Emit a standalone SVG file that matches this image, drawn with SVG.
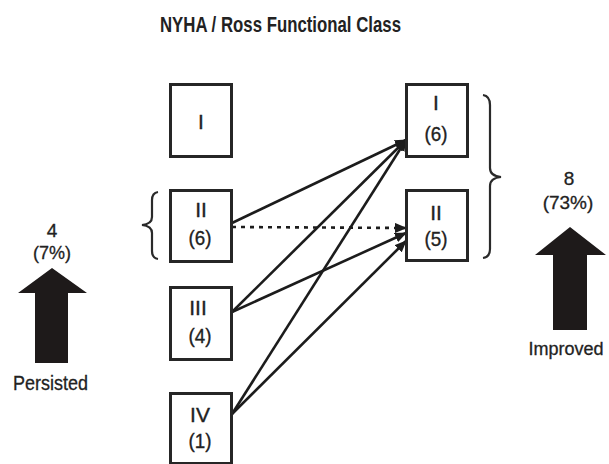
<svg xmlns="http://www.w3.org/2000/svg" width="609" height="464" viewBox="0 0 609 464">
<style>
  .box { fill: #fff; stroke: #262626; stroke-width: 3; }
  .lbl { font-family: "Liberation Sans", Arial, sans-serif; font-size: 21px; fill: #222; stroke: #222; stroke-width: 0.35; text-anchor: middle; }
  .num { font-family: "Liberation Sans", Arial, sans-serif; font-size: 19px; fill: #222; stroke: #222; stroke-width: 0.3; text-anchor: middle; }
  .title { font-family: "Liberation Sans", Arial, sans-serif; font-size: 22px; font-weight: bold; fill: #222; text-anchor: middle; }
  .conn { stroke: #1c1c1c; stroke-width: 2.6; fill: none; marker-end: url(#ah); }
  .dot { stroke-dasharray: 4 5; }
  .brace { stroke: #2a2a2a; stroke-width: 2.2; fill: none; }
  .big { fill: #1e1a1a; }
</style>
<defs>
  <marker id="ah" viewBox="0 0 12 10" refX="11" refY="5" markerWidth="12" markerHeight="10" markerUnits="userSpaceOnUse" orient="auto">
    <path d="M0,0 L12,5 L0,10 Z" fill="#1c1c1c"/>
  </marker>
</defs>
<rect width="609" height="464" fill="#fff"/>
<text class="title" x="280.5" y="32" textLength="241" lengthAdjust="spacingAndGlyphs">NYHA / Ross Functional Class</text>

<g id="connectors">
  <line class="conn" x1="232" y1="223" x2="406" y2="140"/>
  <line class="conn dot" x1="232" y1="227" x2="406" y2="228"/>
  <line class="conn" x1="232" y1="312" x2="406" y2="140"/>
  <line class="conn" x1="232" y1="312" x2="406" y2="233"/>
  <line class="conn" x1="232" y1="414" x2="406" y2="140"/>
  <line class="conn" x1="232" y1="414" x2="406" y2="241"/>
</g>

<g id="L1">
  <rect class="box" x="170.5" y="84.5" width="61" height="72"/>
  <text class="lbl" x="201" y="129">I</text>
</g>
<g id="L2">
  <rect class="box" x="170.5" y="190.5" width="61" height="71"/>
  <text class="lbl" x="201" y="217">II</text>
  <text class="lbl" x="200" y="245" textLength="23" lengthAdjust="spacingAndGlyphs">(6)</text>
</g>
<g id="L3">
  <rect class="box" x="170.5" y="287.5" width="61" height="72"/>
  <text class="lbl" x="198" y="315">III</text>
  <text class="lbl" x="200" y="343" textLength="23" lengthAdjust="spacingAndGlyphs">(4)</text>
</g>
<g id="L4">
  <rect class="box" x="170.5" y="393.5" width="61" height="70"/>
  <text class="lbl" x="200" y="422">IV</text>
  <text class="lbl" x="200" y="448" textLength="23" lengthAdjust="spacingAndGlyphs">(1)</text>
</g>
<g id="R1">
  <rect class="box" x="406.5" y="84.5" width="61" height="72"/>
  <text class="lbl" x="436" y="110">I</text>
  <text class="lbl" x="436" y="141" textLength="23" lengthAdjust="spacingAndGlyphs">(6)</text>
</g>
<g id="R2">
  <rect class="box" x="406.5" y="190.5" width="61" height="70"/>
  <text class="lbl" x="436" y="220">II</text>
  <text class="lbl" x="436" y="246" textLength="23" lengthAdjust="spacingAndGlyphs">(5)</text>
</g>

<g id="brace-left">
  <path class="brace" d="M158,192 Q152,193 152,200 L152,217 Q152,224 142,225 Q152,226 152,233 L152,251 Q152,258 158,259"/>
</g>
<g id="brace-right">
  <path class="brace" d="M483,95 Q490,96 490,105 L490,168 Q490,176 501,177 Q490,178 490,186 L490,249 Q490,257 483,258"/>
</g>

<g id="persisted">
  <text class="num" x="52" y="237">4</text>
  <text class="num" x="52" y="259" textLength="38" lengthAdjust="spacingAndGlyphs">(7%)</text>
  <path class="big" d="M52,268 L87,293 L68,293 L68,363 L35,363 L35,293 L18,293 Z"/>
  <text class="num" x="50.5" y="390" textLength="75" lengthAdjust="spacingAndGlyphs" style="font-size:21px">Persisted</text>
</g>
<g id="improved">
  <text class="num" x="569" y="185">8</text>
  <text class="num" x="568" y="209">(73%)</text>
  <path class="big" d="M570,227 L606,255 L587,255 L587,330 L553,330 L553,255 L535,255 Z"/>
  <text class="num" x="566" y="355" style="font-size:18px">Improved</text>
</g>
</svg>
